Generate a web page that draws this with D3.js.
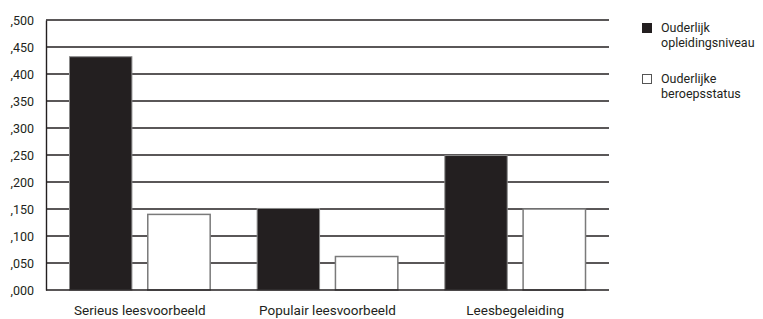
<!DOCTYPE html>
<html><head><meta charset="utf-8">
<script src="https://cdn.jsdelivr.net/npm/d3@7"></script>
<style>body{margin:0;background:#fff}svg{display:block}text{font-family:"Liberation Sans Narrow","Roboto","Noto Sans",sans-serif;fill:#231f20}</style>
</head><body><svg id="c" width="763" height="319"></svg>
<script>
const categories = ["Serieus leesvoorbeeld", "Populair leesvoorbeeld", "Leesbegeleiding"];
const seriesNames = ["Ouderlijk opleidingsniveau", "Ouderlijke beroepsstatus"];
const opleiding = [0.432, 0.151, 0.249];
const beroeps = [0.140, 0.062, 0.150];
const yTicks = [0, 0.05, 0.1, 0.15, 0.2, 0.25, 0.3, 0.35, 0.4, 0.45, 0.5];
const legendLines = [["Ouderlijk", "opleidingsniveau"], ["Ouderlijke", "beroepsstatus"]];

const svg = d3.select("#c");
const L = 46, R = 609, T = 20, B = 290;
const y = d3.scaleLinear().domain([0, 0.5]).range([B, T]);
const x0 = d3.scaleBand().domain(categories).range([L, R]).paddingInner(0.245).paddingOuter(0.1225);
const x1 = d3.scaleBand().domain([0, 1]).range([0, x0.bandwidth()]).paddingInner(0.19);
const ink = "#231f20";

// gridlines
svg.append("g").selectAll("line").data(yTicks.filter(d => d > 0)).join("line")
  .attr("x1", L).attr("x2", R).attr("y1", d => y(d)).attr("y2", d => y(d))
  .attr("stroke", ink).attr("stroke-width", 1.4);

// y axis
const fmt = d => "," + d3.format(".3f")(d).split(".")[1];
const ya = svg.append("g").attr("transform", `translate(${L},0)`)
  .call(d3.axisLeft(y).tickValues(yTicks).tickFormat(fmt).tickSize(0).tickPadding(12));
ya.select(".domain").attr("stroke", ink).attr("stroke-width", 1.4);
ya.selectAll("text").attr("font-size", 12.5).style("font-family", null).attr("fill", ink);

// bars
const data = categories.map((c, i) => ({c, v: [opleiding[i], beroeps[i]]}));
const g = svg.append("g");
data.forEach(d => {
  d.v.forEach((v, j) => {
    g.append("rect")
      .attr("x", x0(d.c) + x1(j) + 0.5)
      .attr("y", y(v))
      .attr("width", x1.bandwidth() - 1)
      .attr("height", B - y(v))
      .attr("fill", j === 0 ? ink : "#fff")
      .attr("stroke", j === 0 ? "#8a8a8a" : "#7a7a7a")
      .attr("stroke-width", j === 0 ? 1 : 1.5);
  });
});

// baseline
svg.append("line").attr("x1", L).attr("x2", R).attr("y1", B).attr("y2", B).attr("stroke", ink).attr("stroke-width", 1.4);

// x labels
svg.append("g").selectAll("text").data(categories).join("text")
  .attr("x", d => x0(d) + x0.bandwidth() / 2).attr("y", 315)
  .attr("text-anchor", "middle").attr("font-size", 13.5).text(d => d);

// legend
const lg = svg.append("g");
legendLines.forEach((lines, i) => {
  const oy = i * 51;
  lg.append("rect").attr("x", 642.5).attr("y", 23.5 + oy).attr("width", 9).attr("height", 9)
    .attr("fill", i === 0 ? ink : "#fff").attr("stroke", i === 0 ? ink : "#555").attr("stroke-width", 1);
  lines.forEach((t, k) => {
    lg.append("text").attr("x", 661).attr("y", 32 + oy + k * 15).attr("font-size", 12.5).text(t);
  });
});
</script></body></html>
